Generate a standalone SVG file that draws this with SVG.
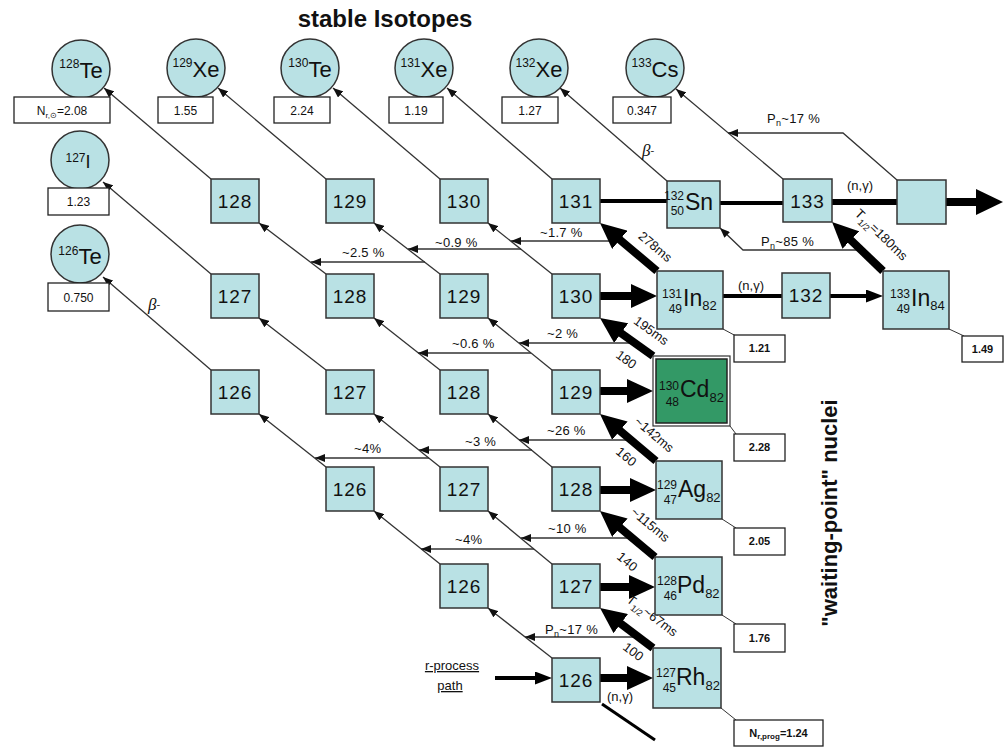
<svg xmlns="http://www.w3.org/2000/svg" width="1005" height="747" viewBox="0 0 1005 747">
<defs>
<style>
text{font-family:"Liberation Sans",Arial,sans-serif;fill:#111}
.bx{fill:#B9E1E4;stroke:#333;stroke-width:1.5}
.vb{fill:#fff;stroke:#222;stroke-width:1.3}
.n{font-size:19px;letter-spacing:1px;text-anchor:middle}
.v{font-size:12px;text-anchor:middle}
.vw{font-size:11px;font-weight:bold;text-anchor:middle}
.p{font-size:13px;letter-spacing:0.3px}
.ms{font-size:12px;text-anchor:end}
.sy{font-size:23px}
.rl{font-size:13px;text-anchor:middle}
.th{stroke:#333;stroke-width:1.3;fill:none;marker-end:url(#sa)}
.tk{stroke:#000;stroke-width:8;fill:none;marker-end:url(#ba)}
.ln{stroke:#000;fill:none}
.cn{stroke:#333;stroke-width:1;fill:none}
.beta{font-family:"Liberation Serif",serif;font-style:italic;font-size:17px}
</style>
<marker id="sa" markerUnits="userSpaceOnUse" viewBox="0 0 10 8" markerWidth="10" markerHeight="8" refX="10" refY="4" orient="auto"><path d="M0,0 L10,4 L0,8 z" fill="#111"/></marker>
<marker id="ba" markerUnits="userSpaceOnUse" viewBox="0 0 26 24" markerWidth="26" markerHeight="24" refX="9" refY="12" orient="auto"><path d="M0,0 L26,12 L0,24 z" fill="#000"/></marker>
<marker id="ma" markerUnits="userSpaceOnUse" viewBox="0 0 17 13" markerWidth="17" markerHeight="13" refX="5" refY="6.5" orient="auto"><path d="M0,0 L17,6.5 L0,13 z" fill="#000"/></marker>
<marker id="xa" markerUnits="userSpaceOnUse" viewBox="0 0 27 26" markerWidth="27" markerHeight="26" refX="8" refY="13" orient="auto"><path d="M0,0 L27,13 L0,26 z" fill="#000"/></marker>
</defs>
<rect width="1005" height="747" fill="#fff"/>

<text x="385" y="27" font-size="24" font-weight="bold" text-anchor="middle">stable Isotopes</text>
<text transform="translate(837,513) rotate(-90)" font-size="22" font-weight="bold" text-anchor="middle">"waiting-point" nuclei</text>

<g id="connectors">
<path class="th" d="M211,179 L104,88"/>
<path class="th" d="M211,274 L103,182"/>
<path class="th" d="M211,370 L103,277"/>
<path class="th" d="M326,179 L218,88"/>
<path class="th" d="M326,274 L259,223"/>
<path class="th" d="M326,370 L259,318"/>
<path class="th" d="M326,467 L259,414"/>
<path class="th" d="M440,179 L333,88"/>
<path class="th" d="M440,274 L374,223"/>
<path class="th" d="M440,370 L374,318"/>
<path class="th" d="M440,467 L374,414"/>
<path class="th" d="M440,564 L374,511"/>
<path class="th" d="M552,179 L447,88"/>
<path class="th" d="M552,274 L488,223"/>
<path class="th" d="M552,370 L488,318"/>
<path class="th" d="M552,467 L488,414"/>
<path class="th" d="M552,564 L488,511"/>
<path class="th" d="M552,658 L488,608"/>
<path class="th" d="M667,181 L560,88"/>
<path class="th" d="M783,179 L676,89"/>

<path class="th" d="M622,241 L511,241"/>
<path class="th" d="M521,249 L408,249"/>
<path class="th" d="M425,262 L311,262"/>
<path class="th" d="M635,343 L519,343"/>
<path class="th" d="M531,353 L418,353"/>
<path class="th" d="M632,440 L519,440"/>
<path class="th" d="M532,450 L419,450"/>
<path class="th" d="M429,458 L315,458"/>
<path class="th" d="M632,538 L521,538"/>
<path class="th" d="M534,549 L421,549"/>
<path class="th" d="M638,637 L525,637"/>
<path class="th" d="M897,180 L843,133 L728,133"/>
<path class="th" d="M861,250 L743,250 L720,228"/>

<path class="tk" d="M657,271 L613,234"/>
<path class="tk" d="M883,271 L844.3,233.8"/>
<path class="tk" d="M653,356 L613.8,327.9"/>
<path class="tk" d="M656,461 L613,424.9"/>
<path class="tk" d="M655,557 L613,521.9"/>
<path class="tk" d="M653,648 L613.6,618.2"/>

<path class="tk" stroke-width="9" d="M600,296 L640,296"/>
<path class="tk" stroke-width="9" d="M600,391 L636,391"/>
<path class="tk" stroke-width="9" d="M600,490 L639,490"/>
<path class="tk" stroke-width="9" d="M600,587 L638,587"/>
<path class="tk" stroke-width="9" d="M600,678 L636,678"/>

<path class="ln" stroke-width="4" d="M600,201 L667,201"/>
<path class="ln" stroke-width="4" d="M720,203 L783,203"/>
<path class="ln" stroke-width="6" d="M832,202 L897,202"/>
<path class="ln" stroke-width="8" marker-end="url(#xa)" d="M946,202 L984,202"/>
<path class="ln" stroke-width="4" d="M723,296 L782,296"/>
<path class="ln" stroke-width="4" marker-end="url(#ma)" d="M830,296 L871,296"/>
<path class="ln" stroke-width="4" marker-end="url(#ma)" d="M495,678 L540,678"/>
<path class="ln" stroke-width="3" d="M655,740 L602,704"/>

<path class="cn" d="M723,329 L736,336"/>
<path class="cn" d="M730,426 L736,434"/>
<path class="cn" d="M722,519 L736,528"/>
<path class="cn" d="M722,615 L736,624"/>
<path class="cn" d="M721,708 L736,720"/>
<path class="cn" d="M949,329 L964,336"/>
</g>

<g id="connector-labels">
<text class="p" x="540" y="237">~1.7 %</text>
<text class="p" x="435" y="247">~0.9 %</text>
<text class="p" x="342" y="257">~2.5 %</text>
<text class="p" x="547" y="338">~2 %</text>
<text class="p" x="452" y="348">~0.6 %</text>
<text class="p" x="547" y="435">~26 %</text>
<text class="p" x="465" y="446">~3 %</text>
<text class="p" x="354" y="453">~4%</text>
<text class="p" x="548" y="533">~10 %</text>
<text class="p" x="455" y="544">~4%</text>
<text class="p" x="545" y="634">P<tspan font-size="9" dy="3">n</tspan><tspan dy="-3">~17 %</tspan></text>
<text class="p" x="767" y="123">P<tspan font-size="9" dy="3">n</tspan><tspan dy="-3">~17 %</tspan></text>
<text class="p" x="761" y="246">P<tspan font-size="9" dy="3">n</tspan><tspan dy="-3">~85 %</tspan></text>
<text class="rl" x="860" y="190">(n,γ)</text>
<text class="rl" x="751" y="290">(n,γ)</text>
<text class="rl" x="620" y="701">(n,γ)</text>
<text class="rl" transform="translate(655,247) rotate(40)" y="4">278ms</text>
<text class="rl" transform="translate(881,235) rotate(44)" y="4">T<tspan font-size="9" dy="4">1/2</tspan><tspan dy="-4">=180ms</tspan></text>
<text class="rl" transform="translate(651,331) rotate(36)" y="4">195ms</text>
<text class="rl" transform="translate(626,360) rotate(36)" y="4">180</text>
<text class="rl" transform="translate(654,435) rotate(40)" y="4">~142ms</text>
<text class="rl" transform="translate(626,457) rotate(40)" y="4">160</text>
<text class="rl" transform="translate(650,525) rotate(40)" y="4">~115ms</text>
<text class="rl" transform="translate(627,562) rotate(40)" y="4">140</text>
<text class="rl" transform="translate(652,616) rotate(37)" y="4">T<tspan font-size="9" dy="4">1/2</tspan><tspan dy="-4">~67ms</tspan></text>
<text class="rl" transform="translate(633,652) rotate(37)" y="4">100</text>
<text class="beta" x="642" y="156">β<tspan font-size="11" dy="-2">-</tspan></text>
<text class="beta" x="148" y="310">β<tspan font-size="11" dy="-2">-</tspan></text>
<text font-size="13" text-anchor="middle" text-decoration="underline" x="452" y="670">r-process</text>
<text font-size="13" text-anchor="middle" text-decoration="underline" x="450" y="690">path</text>
</g>

<g id="iso-128Te"><circle class="bx" cx="81" cy="69" r="29"/><text x="81" y="78" text-anchor="middle"><tspan font-size="12" dy="-10">128</tspan><tspan font-size="22" dy="10">Te</tspan></text><rect class="vb" x="14" y="97" width="96" height="26"/><text class="v" x="62" y="115">N<tspan font-size="8" dy="3">r,⊙</tspan><tspan dy="-3">=2.08</tspan></text></g>
<g id="iso-129Xe"><circle class="bx" cx="196" cy="68" r="29"/><text x="196" y="77" text-anchor="middle"><tspan font-size="12" dy="-10">129</tspan><tspan font-size="22" dy="10">Xe</tspan></text><rect class="vb" x="158" y="97" width="55" height="26"/><text class="v" x="185.5" y="115">1.55</text></g>
<g id="iso-130Te"><circle class="bx" cx="310" cy="68" r="29"/><text x="310" y="77" text-anchor="middle"><tspan font-size="12" dy="-10">130</tspan><tspan font-size="22" dy="10">Te</tspan></text><rect class="vb" x="274" y="97" width="56" height="26"/><text class="v" x="302" y="115">2.24</text></g>
<g id="iso-131Xe"><circle class="bx" cx="424" cy="68" r="29"/><text x="424" y="77" text-anchor="middle"><tspan font-size="12" dy="-10">131</tspan><tspan font-size="22" dy="10">Xe</tspan></text><rect class="vb" x="389" y="97" width="54" height="26"/><text class="v" x="416" y="115">1.19</text></g>
<g id="iso-132Xe"><circle class="bx" cx="539" cy="68" r="29"/><text x="539" y="77" text-anchor="middle"><tspan font-size="12" dy="-10">132</tspan><tspan font-size="22" dy="10">Xe</tspan></text><rect class="vb" x="502" y="97" width="56" height="26"/><text class="v" x="530" y="115">1.27</text></g>
<g id="iso-133Cs"><circle class="bx" cx="655" cy="68" r="29"/><text x="655" y="77" text-anchor="middle"><tspan font-size="12" dy="-10">133</tspan><tspan font-size="22" dy="10">Cs</tspan></text><rect class="vb" x="613" y="97" width="58" height="26"/><text class="v" x="642" y="115">0.347</text></g>
<g id="iso-127I"><circle class="bx" cx="80" cy="160" r="29"/><text x="78" y="168" text-anchor="middle"><tspan font-size="12" dy="-6">127</tspan><tspan font-size="18" dy="6">I</tspan></text><rect class="vb" x="48" y="188" width="61" height="27"/><text class="v" x="78.5" y="206">1.23</text></g>
<g id="iso-126Te"><circle class="bx" cx="80" cy="254" r="29"/><text x="80" y="264" text-anchor="middle"><tspan font-size="12" dy="-9">126</tspan><tspan font-size="22" dy="9">Te</tspan></text><rect class="vb" x="48" y="283" width="61" height="28"/><text class="v" x="78.5" y="302">0.750</text></g>

<g id="c1-128"><rect class="bx" x="211" y="179" width="48" height="44"/><text class="n" x="235" y="208">128</text></g>
<g id="c1-127"><rect class="bx" x="211" y="274" width="48" height="44"/><text class="n" x="235" y="303">127</text></g>
<g id="c1-126"><rect class="bx" x="211" y="370" width="48" height="44"/><text class="n" x="235" y="399">126</text></g>
<g id="c2-129"><rect class="bx" x="326" y="179" width="48" height="44"/><text class="n" x="350" y="208">129</text></g>
<g id="c2-128"><rect class="bx" x="326" y="274" width="48" height="44"/><text class="n" x="350" y="303">128</text></g>
<g id="c2-127"><rect class="bx" x="326" y="370" width="48" height="44"/><text class="n" x="350" y="399">127</text></g>
<g id="c2-126"><rect class="bx" x="326" y="467" width="48" height="44"/><text class="n" x="350" y="496">126</text></g>
<g id="c3-130"><rect class="bx" x="440" y="179" width="48" height="44"/><text class="n" x="464" y="208">130</text></g>
<g id="c3-129"><rect class="bx" x="440" y="274" width="48" height="44"/><text class="n" x="464" y="303">129</text></g>
<g id="c3-128"><rect class="bx" x="440" y="370" width="48" height="44"/><text class="n" x="464" y="399">128</text></g>
<g id="c3-127"><rect class="bx" x="440" y="467" width="48" height="44"/><text class="n" x="464" y="496">127</text></g>
<g id="c3-126"><rect class="bx" x="440" y="564" width="48" height="44"/><text class="n" x="464" y="593">126</text></g>
<g id="c4-131"><rect class="bx" x="552" y="179" width="48" height="44"/><text class="n" x="576" y="208">131</text></g>
<g id="c4-130"><rect class="bx" x="552" y="274" width="48" height="44"/><text class="n" x="576" y="303">130</text></g>
<g id="c4-129"><rect class="bx" x="552" y="370" width="48" height="44"/><text class="n" x="576" y="399">129</text></g>
<g id="c4-128"><rect class="bx" x="552" y="467" width="48" height="44"/><text class="n" x="576" y="496">128</text></g>
<g id="c4-127"><rect class="bx" x="552" y="564" width="48" height="44"/><text class="n" x="576" y="593">127</text></g>
<g id="c4-126"><rect class="bx" x="552" y="658" width="48" height="44"/><text class="n" x="576" y="687">126</text></g>

<g id="sn132"><rect class="bx" x="667" y="181" width="53" height="47"/><text class="ms" font-size="11" x="684" y="200">132</text><text class="ms" font-size="11" x="684" y="215">50</text><text class="sy" font-size="24" x="685" y="210">Sn</text></g>
<g id="n133"><rect class="bx" x="783" y="179" width="49" height="43"/><text class="n" x="807.5" y="208">133</text></g>
<g id="n134"><rect class="bx" x="897" y="180" width="49" height="44"/></g>
<g id="n132"><rect class="bx" x="782" y="273" width="48" height="45"/><text class="n" x="806" y="302">132</text></g>

<g id="in131"><rect class="bx" x="657" y="271" width="66" height="58"/><text class="ms" x="682" y="298">131</text><text class="ms" x="682" y="313">49</text><text class="sy" x="683" y="306">In<tspan font-size="13" dy="4">82</tspan></text><rect class="vb" x="734" y="335" width="51" height="27"/><text class="vw" x="759.5" y="352">1.21</text></g>
<g id="in133"><rect class="bx" x="883" y="271" width="66" height="58"/><text class="ms" x="910" y="298">133</text><text class="ms" x="910" y="313">49</text><text class="sy" x="911" y="306">In<tspan font-size="13" dy="4">84</tspan></text><rect class="vb" x="962" y="336" width="41" height="26"/><text class="vw" x="982.5" y="353">1.49</text></g>
<g id="cd130"><rect x="653" y="356" width="77" height="70" fill="#fff" stroke="#333" stroke-width="1.2"/><rect x="656" y="359" width="71" height="64" fill="#339966" stroke="#222" stroke-width="1.5"/><text class="ms" x="679" y="390">130</text><text class="ms" x="679" y="406">48</text><text class="sy" x="680" y="397">Cd<tspan font-size="13" dy="5">82</tspan></text><rect class="vb" x="734" y="434" width="51" height="27"/><text class="vw" x="759.5" y="451">2.28</text></g>
<g id="ag129"><rect class="bx" x="656" y="461" width="66" height="58"/><text class="ms" x="677" y="489">129</text><text class="ms" x="677" y="504">47</text><text class="sy" x="678" y="497">Ag<tspan font-size="13" dy="5">82</tspan></text><rect class="vb" x="734" y="528" width="51" height="27"/><text class="vw" x="759.5" y="545">2.05</text></g>
<g id="pd128"><rect class="bx" x="655" y="557" width="67" height="58"/><text class="ms" x="677" y="585">128</text><text class="ms" x="677" y="600">46</text><text class="sy" x="677" y="593">Pd<tspan font-size="13" dy="5">82</tspan></text><rect class="vb" x="734" y="624" width="51" height="28"/><text class="vw" x="759.5" y="642">1.76</text></g>
<g id="rh127"><rect class="bx" x="653" y="648" width="68" height="60"/><text class="ms" x="676" y="677">127</text><text class="ms" x="676" y="692">45</text><text class="sy" x="676" y="685">Rh<tspan font-size="13" dy="5">82</tspan></text><rect class="vb" x="734" y="720" width="89" height="26"/><text class="vw" x="778.5" y="737">N<tspan font-size="8" dy="2">r,prog</tspan><tspan dy="-2">=1.24</tspan></text></g>
</svg>
